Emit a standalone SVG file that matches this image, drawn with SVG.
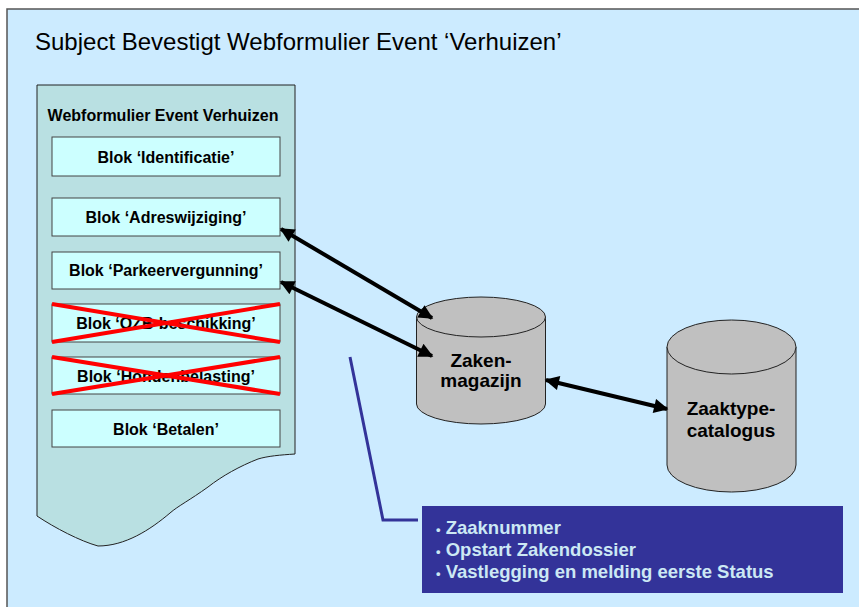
<svg xmlns="http://www.w3.org/2000/svg" width="859" height="607" viewBox="0 0 859 607">
  <defs>
    <style>
      .frame { fill: #CCEBFF; stroke: #555555; stroke-width: 1.5; }
      .form { fill: #B9E0E2; stroke: #222222; stroke-width: 1; }
      .blok { fill: #CCFFFF; stroke: #444444; stroke-width: 1; }
      .blok-text { font-family: "Liberation Sans", Arial, sans-serif; font-size: 16px; font-weight: bold; fill: #000000; text-anchor: middle; }
      .cross { stroke: #FF0000; stroke-width: 4; }
      .cyl { fill: #C0C0C0; stroke: #222222; stroke-width: 1; }
      .cyl-text { font-family: "Liberation Sans", Arial, sans-serif; font-size: 19px; font-weight: bold; fill: #000000; text-anchor: middle; }
      .arrow { stroke: #000000; stroke-width: 4; fill: none; marker-start: url(#head); marker-end: url(#head); }
      .callout-line { stroke: #333399; stroke-width: 3; fill: none; }
      .callout { fill: #333399; }
      .callout-text { font-family: "Liberation Sans", Arial, sans-serif; font-size: 18.5px; font-weight: bold; fill: #CCE8F4; }
      .bullet { font-size: 13px; }
    </style>
    <marker id="head" viewBox="0 0 10 10" refX="9" refY="5" markerWidth="4.2" markerHeight="3.6" orient="auto-start-reverse" markerUnits="strokeWidth">
      <path d="M0,0 L10,5 L0,10 z" fill="#000000"/>
    </marker>
  </defs>

  <!-- page background and frame -->
  <rect x="0" y="0" width="859" height="607" fill="#FFFFFF"/>
  <rect class="frame" x="7" y="9" width="860" height="610"/>
  <text x="35" y="50" font-family="'Liberation Sans', Arial, sans-serif" font-size="24" fill="#000000">Subject Bevestigt Webformulier Event ‘Verhuizen’</text>

  <!-- web form document -->
  <g id="webformulier">
    <path class="form" d="M37,85 L295,85 L295,454 C280,455 268,456 258,459 C240,466 222,476 208,487 C190,500 178,506 170,513 C150,530 125,546 98,546 C80,541 55,528 37,516 Z"/>
    <text class="blok-text" x="163" y="121">Webformulier Event Verhuizen</text>
  </g>

  <g id="blok-identificatie">
    <rect class="blok" x="52" y="137" width="228" height="39"/>
    <text class="blok-text" x="166" y="163">Blok ‘Identificatie’</text>
  </g>
  <g id="blok-adreswijziging">
    <rect class="blok" x="52" y="198" width="228" height="38"/>
    <text class="blok-text" x="166" y="223">Blok ‘Adreswijziging’</text>
  </g>
  <g id="blok-parkeervergunning">
    <rect class="blok" x="52" y="252" width="228" height="37"/>
    <text class="blok-text" x="166" y="276">Blok ‘Parkeervergunning’</text>
  </g>
  <g id="blok-ozb">
    <rect class="blok" x="52" y="304" width="228" height="38"/>
    <text class="blok-text" x="166" y="329">Blok ‘OZB-beschikking’</text>
    <line class="cross" x1="52" y1="304" x2="280" y2="342"/>
    <line class="cross" x1="52" y1="342" x2="280" y2="304"/>
  </g>
  <g id="blok-hondenbelasting">
    <rect class="blok" x="52" y="357" width="228" height="37"/>
    <text class="blok-text" x="166" y="382">Blok ‘Hondenbelasting’</text>
    <line class="cross" x1="52" y1="357" x2="280" y2="394"/>
    <line class="cross" x1="52" y1="394" x2="280" y2="357"/>
  </g>
  <g id="blok-betalen">
    <rect class="blok" x="52" y="410" width="228" height="37"/>
    <text class="blok-text" x="166" y="435">Blok ‘Betalen’</text>
  </g>

  <!-- databases -->
  <g id="zakenmagazijn">
    <path class="cyl" d="M416.5,317 L416.5,404 A64.5,20 0 0 0 545.5,404 L545.5,317"/>
    <ellipse class="cyl" cx="481" cy="317" rx="64.5" ry="20"/>
    <text class="cyl-text" x="481" y="367">Zaken-</text>
    <text class="cyl-text" x="481" y="387">magazijn</text>
  </g>
  <g id="zaaktypecatalogus">
    <path class="cyl" d="M667,347 L667,465 A64.5,27 0 0 0 796,465 L796,347"/>
    <ellipse class="cyl" cx="731.5" cy="347" rx="64.5" ry="27"/>
    <text class="cyl-text" x="731" y="415">Zaaktype-</text>
    <text class="cyl-text" x="731" y="437">catalogus</text>
  </g>

  <!-- connectors -->
  <g id="connectors">
    <line class="arrow" x1="281" y1="229" x2="432" y2="318"/>
    <line class="arrow" x1="281" y1="282" x2="432" y2="356"/>
    <line class="arrow" x1="546" y1="380" x2="667" y2="409"/>
    <polyline class="callout-line" points="350,357 383,520 418,520"/>
  </g>

  <!-- callout -->
  <g id="callout">
    <rect class="callout" x="422" y="506" width="421" height="87"/>
    <text class="callout-text" x="436" y="534"><tspan class="bullet">•</tspan> Zaaknummer</text>
    <text class="callout-text" x="436" y="556"><tspan class="bullet">•</tspan> Opstart Zakendossier</text>
    <text class="callout-text" x="436" y="578"><tspan class="bullet">•</tspan> Vastlegging en melding eerste Status</text>
  </g>
</svg>
